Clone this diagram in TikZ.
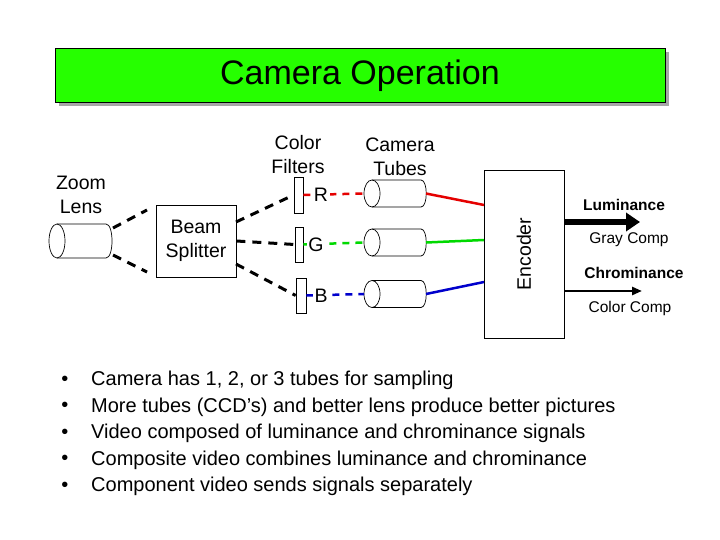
\documentclass[tikz,border=0pt]{standalone}
\usepackage{fontspec}
\setmainfont{Liberation Sans}
\usetikzlibrary{arrows.meta}
\begin{document}
\begin{tikzpicture}[x=1pt,y=-1pt,
  lbl/.style={font=\fontsize{19.5}{24}\selectfont,align=center,inner sep=0},
  sm/.style={font=\fontsize{15.5}{18}\selectfont,inner sep=0},
  bx/.style={draw,fill=white,line width=0.7pt},
  blk/.style={dash pattern=on 9pt off 7pt,line width=3pt},
  col/.style={dash pattern=on 7pt off 6pt,line width=2.5pt}]
\useasboundingbox[fill=white] (0,0) rectangle (720,540);
% title
\fill[gray!70] (59,52) rectangle (669,106);
\node[draw,fill=green!80!lime,minimum width=610pt,minimum height=54pt,anchor=north west,inner sep=0] (title) at (55,48) {};
\node[font=\fontsize{34}{40}\selectfont] (tt) at (360,76) {Camera Operation};
% zoom lens
\node[lbl] (zl) at (81,195) {Zoom\\Lens};
\draw[line width=0.7pt] (57,224) -- (106,224) .. controls (114,224) and (114,258) .. (106,258) -- (57,258);
\draw[line width=0.7pt] (57,241) ellipse[x radius=8pt,y radius=17pt];
\coordinate (lt) at (113,228); \coordinate (lb) at (113,255);
% beam splitter
\node[bx,minimum width=80pt,minimum height=72pt,inner sep=0,lbl] (bs) at (196,241) {Beam\\Splitter};
% filters
\node[bx,minimum width=9pt,minimum height=36pt,inner sep=0] (fr) at (298.5,195) {};
\node[bx,minimum width=8pt,minimum height=35pt,inner sep=0] (fg) at (299,244.5) {};
\node[bx,minimum width=10pt,minimum height=35pt,inner sep=0] (fb) at (301,295.5) {};
\node[lbl] (cf) at (298,155) {Color\\Filters};
\node[lbl] (ct) at (400,157) {Camera\\Tubes};
% dashed black
\draw[blk] (lt) -- (147,210);
\draw[blk] (lb) -- (147,272);
\draw[blk] (236,222) -- (fr.west);
\draw[blk] (bs.east) -- (fg.west);
\draw[blk] (236,264) -- (fb.west);
% tubes
\foreach \n/\y in {tr/193.5,tg/242.5,tb/294}{
  \draw[fill=white,line width=0.7pt] (372,\y-13.5) -- (421,\y-13.5) .. controls (428,\y-13.5) and (428,\y+13.5) .. (421,\y+13.5) -- (372,\y+13.5);
  \draw[line width=0.7pt] (372,\y) ellipse[x radius=8pt,y radius=13.5pt];
  \coordinate (\n) at (364,\y);
  \coordinate (\n o) at (426,\y);
}
% colored dashes
\draw[col,red!90!black] (fr.east) -- (tr);
\draw[col,green!85!black] (fg.east) -- (tg);
\draw[col,blue!80!black] (fb.east) -- (tb);
\node[lbl,fill=white,inner sep=1.5pt] (R) at (321,195) {R};
\node[lbl,fill=white,inner sep=1.5pt] (G) at (316,245) {G};
\node[lbl,fill=white,inner sep=1.5pt] (B) at (321,296) {B};
% encoder
\node[bx,minimum width=80pt,minimum height=168pt,inner sep=0] (enc) at (524,254) {};
\node[lbl,rotate=90] at (enc) {Encoder};
\draw[red!90!black,line width=2.5pt] (tro) -- (484,205);
\draw[green!85!black,line width=2.5pt] (tgo) -- (484,240);
\draw[blue!80!black,line width=2.5pt] (tbo) -- (484,282);
% outputs
\coordinate (l1) at (640,222); \coordinate (c1) at (642,291);
\draw[line width=6pt,-{Triangle[length=14pt,width=18pt]}] (enc.east|-l1) -- (l1);
\draw[line width=2.5pt,-{Triangle[length=10pt,width=8pt]}] (enc.east|-c1) -- (c1);
\node[sm,font=\bfseries\fontsize{15.5}{18}\selectfont] at (624,205) {Luminance};
\node[sm] at (629,240) {Gray Comp};
\node[sm,font=\bfseries\fontsize{15.5}{18}\selectfont] at (634,273) {Chrominance};
\node[sm] at (630,308) {Color Comp};
% bullets
\foreach \t [count=\i] in {{Camera has 1, 2, or 3 tubes for sampling},{More tubes (CCD’s) and better lens produce better pictures},{Video composed of luminance and chrominance signals},{Composite video combines luminance and chrominance},{Component video sends signals separately}}{
  \node[font=\fontsize{20}{22}\selectfont,inner sep=0] at (65,354+26.5*\i) {•};
  \node[font=\fontsize{20}{22}\selectfont,anchor=west,inner sep=0] at (91,354+26.5*\i) {\t};
}
\end{tikzpicture}
\end{document}
